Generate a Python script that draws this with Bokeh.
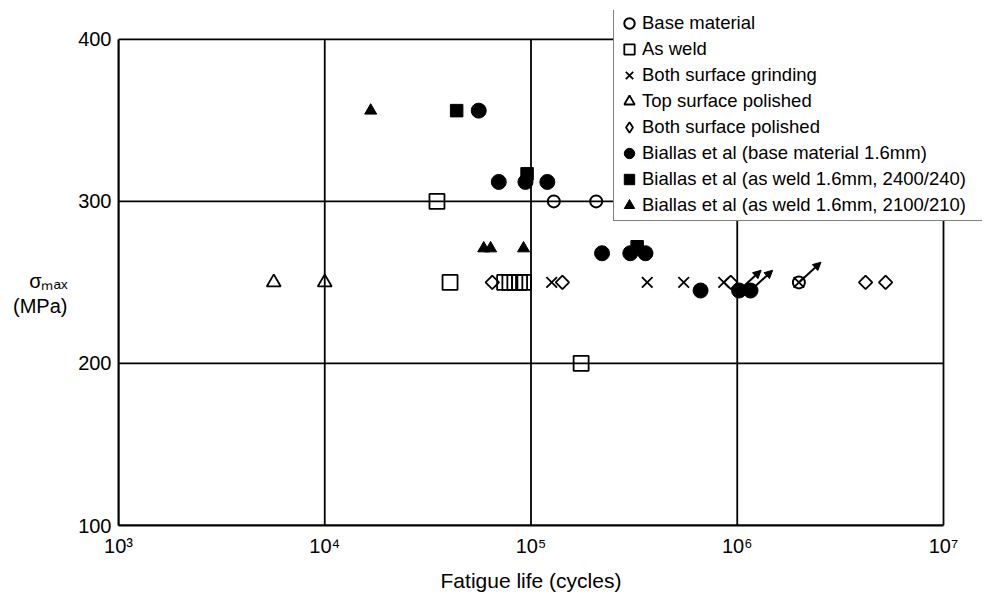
import numpy as np
from bokeh.plotting import figure
from bokeh.models import (FixedTicker, Legend, LegendItem, Arrow, LinearAxis, LogAxis,
                          NormalHead, ColumnDataSource)
from bokeh.embed import file_html
from bokeh.resources import INLINE

# ---------------- data (fatigue life in cycles, max stress in MPa) ----------------
base_N = [1.29e5, 2.07e5, 1.99e6]
base_S = [300, 300, 250]

weld_N = [3.5e4, 4.05e4, 7.45e4, 7.9e4, 8.35e4, 8.8e4, 9.2e4, 1.75e5]
weld_S = [300, 250, 250, 250, 250, 250, 250, 200]

grind_N = [1.26e5, 3.66e5, 5.5e5, 8.6e5, 1.99e6]
grind_S = [250, 250, 250, 250, 250]

top_N = [5.66e3, 1.0e4]
top_S = [250, 250]

both_N = [6.49e4, 1.42e5, 9.3e5, 4.19e6, 5.24e6]
both_S = [250, 250, 250, 250, 250]

bia_base_N = [5.58e4, 6.98e4, 9.4e4, 1.2e5, 2.21e5, 3.03e5, 3.59e5, 6.64e5, 1.02e6, 1.16e6]
bia_base_S = [356, 312, 312, 312, 268, 268, 268, 245, 245, 245]

bia_2400_N = [4.36e4, 9.57e4, 3.27e5]
bia_2400_S = [356, 317, 272]

bia_2100_N = [1.67e4, 5.9e4, 6.37e4, 9.2e4]
bia_2100_S = [356, 271, 271, 271]

# run-outs (marked with arrows)
runout_N = [1.02e6, 1.16e6, 1.99e6]
runout_S = [245, 245, 250]

x_ticks = [1e3, 1e4, 1e5, 1e6, 1e7]
x_tick_labels = ["10\u00b3", "10\u2074", "10\u2075", "10\u2076", "10\u2077"]
y_ticks = [100, 200, 300, 400]

x_title = "Fatigue life (cycles)"
y_title_lines = ["\u03c3\u2098\u2090\u2093", "(MPa)"]
y_title_at = [251.0, 235.5]     # stress level at which each title line sits

legend_labels = ["Base material", "As weld", "Both surface grinding",
                 "Top surface polished", "Both surface polished",
                 "Biallas et al (base material 1.6mm)",
                 "Biallas et al (as weld 1.6mm, 2400/240)",
                 "Biallas et al (as weld 1.6mm, 2100/210)"]

FONT = "Liberation Sans"

# The frame is a little larger than the data box (1e3..1e7, 100..400) so that
# the legend can overhang the box at the top-right as in the original.
W, H = 984, 594
BL, BR, BT, BB = 118, 2, 10, 66
box_px_w = 825.0   # pixel width of the 4 decades
box_px_h = 489.0   # pixel height of 100..400 MPa
frame_w = W - BL - BR
frame_h = H - BT - BB
lx0, lx1 = np.log10(x_ticks[0]), np.log10(x_ticks[-1])
x_end = 10 ** (lx0 + frame_w * (lx1 - lx0) / box_px_w)
y_end = y_ticks[0] + frame_h * (y_ticks[-1] - y_ticks[0]) / box_px_h
x_mid = 10 ** ((lx0 + lx1) / 2)

p = figure(width=W, height=H, x_axis_type="log",
           x_range=(x_ticks[0], x_end), y_range=(y_ticks[0], y_end),
           output_backend="svg", toolbar_location=None,
           min_border_left=BL, min_border_right=BR,
           min_border_top=BT, min_border_bottom=BB)

p.outline_line_color = None
p.background_fill_color = "white"
p.xgrid.grid_line_color = None
p.ygrid.grid_line_color = None

# grid lines + box, drawn from the tick values
gx0 = [t for t in x_ticks] + [x_ticks[0]] * len(y_ticks)
gx1 = [t for t in x_ticks] + [x_ticks[-1]] * len(y_ticks)
gy0 = [y_ticks[0]] * len(x_ticks) + [t for t in y_ticks]
gy1 = [y_ticks[-1]] * len(x_ticks) + [t for t in y_ticks]
p.segment(gx0, gy0, gx1, gy1, line_color="black", line_width=1.8)

# axes
p.xaxis.ticker = FixedTicker(ticks=x_ticks, minor_ticks=[])
p.xaxis.major_label_overrides = {float(t): l for t, l in zip(x_ticks, x_tick_labels)}
p.yaxis.ticker = FixedTicker(ticks=y_ticks, minor_ticks=[])
p.xaxis.bounds = (x_ticks[0], x_ticks[-1])
p.yaxis.bounds = (y_ticks[0], y_ticks[-1])


def style_axis(ax, size):
    ax.major_tick_out = 0
    ax.major_tick_in = 0
    ax.minor_tick_out = 0
    ax.minor_tick_in = 0
    ax.major_label_text_font = FONT
    ax.major_label_text_font_size = size
    ax.major_label_text_color = "black"


for ax in (p.xaxis[0], p.yaxis[0]):
    style_axis(ax, "20px")
    ax.axis_line_color = "black"
    ax.axis_line_width = 2
p.xaxis.major_label_standoff = 9
p.yaxis.major_label_standoff = 7

# axis titles as extra, line-less axes so that they sit where the original has them
xt = LogAxis(ticker=FixedTicker(ticks=[x_mid], minor_ticks=[]),
             major_label_overrides={float(x_mid): x_title},
             axis_line_color=None, major_label_standoff=9)
style_axis(xt, "21px")
p.add_layout(xt, "below")

yt = LinearAxis(ticker=FixedTicker(ticks=y_title_at, minor_ticks=[]),
                major_label_overrides={float(v): s for v, s in zip(y_title_at, y_title_lines)},
                axis_line_color=None, major_label_standoff=8)
style_axis(yt, "20px")
p.add_layout(yt, "left")

# runout arrows
arr_src = ColumnDataSource(dict(
    x0=runout_N, y0=runout_S,
    x1=[n * 1.28 for n in runout_N], y1=[s + 12.5 for s in runout_S]))
p.add_layout(Arrow(end=NormalHead(size=8, fill_color="black", line_color="black"),
                   x_start="x0", y_start="y0", x_end="x1", y_end="y1",
                   source=arr_src, line_color="black", line_width=2))

# series
open_kw = dict(fill_alpha=0, line_color="black")
r_base = p.scatter(base_N, base_S, marker="circle", size=12, line_width=2, **open_kw)
r_weld = p.scatter(weld_N, weld_S, marker="square", size=15, line_width=1.8, **open_kw)
r_grind = p.scatter(grind_N, grind_S, marker="x", size=15, line_width=1.8, line_color="black")
r_top = p.scatter(top_N, top_S, marker="triangle", size=14, line_width=1.8, **open_kw)
r_both = p.scatter(both_N, both_S, marker="square", angle=np.pi / 4, size=9.5,
                   line_width=1.8, **open_kw)
# legend glyph for the diamonds (the legend ignores marker rotation)
r_both_leg = p.scatter([float("nan")], [float("nan")], marker="diamond", size=12,
                       line_width=1.8, **open_kw)
r_b1 = p.scatter(bia_base_N, bia_base_S, marker="circle", size=15,
                 fill_color="black", line_color="black")
r_b2 = p.scatter(bia_2400_N, bia_2400_S, marker="square", size=12.5,
                 fill_color="black", line_color="black")
r_b3 = p.scatter(bia_2100_N, bia_2100_S, marker="triangle", size=12,
                 fill_color="black", line_color="black")

renderers = [r_base, r_weld, r_grind, r_top, r_both_leg, r_b1, r_b2, r_b3]
legend = Legend(items=[LegendItem(label=l, renderers=[r]) for l, r in zip(legend_labels, renderers)],
                location=(495, 304),
                border_line_color="black", border_line_width=1.5,
                background_fill_color="white", background_fill_alpha=1,
                label_text_font=FONT, label_text_font_size="18.5px",
                label_text_color="black",
                label_height=26, glyph_height=26, glyph_width=26,
                spacing=0, padding=2, margin=0, label_standoff=0,
                label_width=339)
p.add_layout(legend)

open("out.html", "w").write(file_html(p, INLINE))
